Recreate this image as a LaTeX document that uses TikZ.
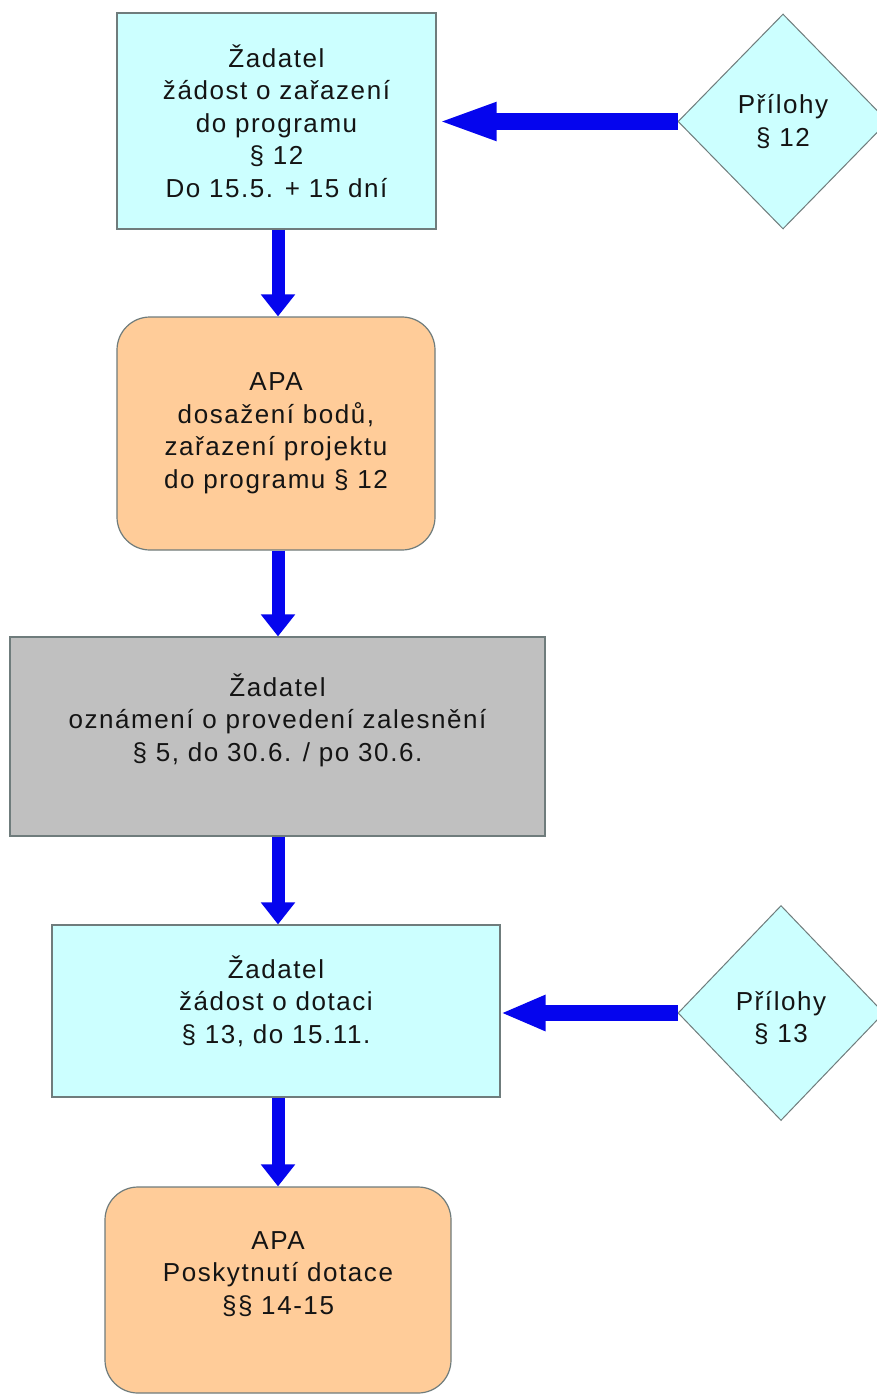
\documentclass[tikz,border=0pt]{standalone}
\usepackage{fontspec}
\setmainfont{Liberation Sans}
\newfontfamily\widesans[LetterSpace=6]{Liberation Sans}
\usetikzlibrary{shapes.geometric,arrows.meta}
\definecolor{cyanfill}{HTML}{CCFFFF}
\definecolor{orangefill}{HTML}{FFCC99}
\definecolor{grayfill}{HTML}{C0C0C0}
\definecolor{edgegray}{HTML}{6F7C7C}
\definecolor{arrowblue}{HTML}{0505EE}
\definecolor{txt}{HTML}{141414}
\tikzset{
  boxtext/.style={font=\widesans\fontsize{26}{32.5}\selectfont, text=txt, align=center},
  shapebox/.style={draw=edgegray, line width=1.2pt, inner sep=0pt, minimum width=#1},
  cyanbox/.style={shapebox=#1, fill=cyanfill, rectangle},
  orangebox/.style={shapebox=#1, fill=orangefill, rectangle, rounded corners=33pt},
  graybox/.style={shapebox=#1, fill=grayfill, rectangle},
  prilohy/.style={draw=edgegray, line width=1pt, fill=cyanfill, diamond, inner sep=0pt, minimum width=210pt, minimum height=215pt},
  downarrow/.style={draw=arrowblue, line width=13pt, -{Triangle[length=22pt,width=33pt]}, arrowblue},
}
\begin{document}
\begin{tikzpicture}[x=1pt,y=-1pt]
\useasboundingbox (0,0) rectangle (877,1396);
\clip (0,0) rectangle (877,1396);
\fill[white] (0,0) rectangle (877,1396);

\node[cyanbox=319pt, minimum height=216pt,
  label={[boxtext]center:{Žadatel\\žádost o zařazení\\do programu\\§ 12\\Do 15.5. + 15 dní}}]
  (b1) at (276.5,121) {};
\node[orangebox=318pt, minimum height=233pt,
  label={[boxtext]center:{APA\\dosažení bodů,\\zařazení projektu\\do programu § 12}}]
  (b2) at (276,433.5) {};
\node[graybox=535pt, minimum height=199pt,
  label={[boxtext,yshift=16.5pt]center:{Žadatel\\oznámení o provedení zalesnění\\§ 5, do 30.6. / po 30.6.}}]
  (b3) at (277.5,736.5) {};
\node[cyanbox=448pt, minimum height=172pt,
  label={[boxtext,yshift=10pt]center:{Žadatel\\žádost o dotaci\\§ 13, do 15.11.}}]
  (b4) at (276,1011) {};
\node[orangebox=346pt, minimum height=206pt,
  label={[boxtext,yshift=16pt]center:{APA\\Poskytnutí dotace\\§§ 14-15}}]
  (b5) at (278,1290) {};

\node[prilohy, label={[boxtext]center:{Přílohy\\§ 12}}] (d1) at (783,121.5) {};
\node[prilohy, minimum width=206pt, label={[boxtext,yshift=-5pt]center:{Přílohy\\§ 13}}] (d2) at (781,1013) {};

\draw[downarrow] (b1.south -| 278,0) -- (b2.north -| 278,0);
\draw[downarrow] (b2.south -| 278,0) -- (b3.north -| 278,0);
\draw[downarrow] (b3.south -| 278,0) -- (b4.north -| 278,0);
\draw[downarrow] (b4.south -| 278,0) -- (b5.north -| 278,0);

\draw[draw=arrowblue, line width=17pt, -{Triangle[length=60pt,width=34pt]}, arrowblue] (d1.west) -- (d1.west -| b1.east);
\draw[draw=arrowblue, line width=16pt, -{Triangle[length=45pt,width=33pt]}, arrowblue] (d2.west) -- (d2.west -| b4.east);
\end{tikzpicture}
\end{document}
